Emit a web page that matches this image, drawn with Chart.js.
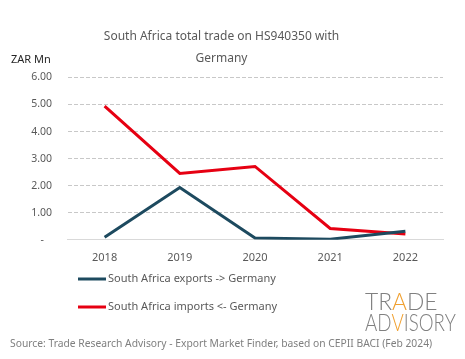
<!DOCTYPE html>
<html>
<head>
<meta charset="utf-8">
<script src="https://cdn.jsdelivr.net/npm/chart.js@4"></script>
<style>
  html, body { margin: 0; padding: 0; background: #fff; }
  #wrap { width: 465px; height: 359px; position: relative; }
</style>
</head>
<body>
<div id="wrap"><canvas id="trade-chart"></canvas></div>
<script>
    // Datos (ZAR millones)
    var years = ['2018', '2019', '2020', '2021', '2022'];
    var exportsToGermany = [0.09, 1.93, 0.07, 0.02, 0.32];
    var importsFromGermany = [4.94, 2.45, 2.71, 0.42, 0.21];
    var yTicks = [0, 1, 2, 3, 4, 5, 6];

    var FONT = '"Noto Sans", "Open Sans", sans-serif';
    var GREY = '#595959';

    // Leyenda vertical, unidad, fuente y logo dibujados a mano
    var extras = {
        id: 'extras',
        afterDraw: function(chart) {
            var ctx = chart.ctx;
            ctx.save();

            // Unidad del eje
            ctx.fillStyle = '#262626';
            ctx.font = '11px ' + FONT;
            ctx.textAlign = 'left';
            ctx.textBaseline = 'middle';
            ctx.fillText('ZAR Mn', 11, 60);

            // Leyenda
            var rows = [279, 307];
            chart.data.datasets.forEach(function(ds, i) {
                ctx.strokeStyle = ds.borderColor;
                ctx.lineWidth = 3;
                ctx.beginPath();
                ctx.moveTo(78, rows[i]);
                ctx.lineTo(106, rows[i]);
                ctx.stroke();
                ctx.fillStyle = GREY;
                ctx.font = '11px ' + FONT;
                ctx.fillText(ds.label, 108, rows[i]);
            });

            // Fuente
            ctx.fillStyle = '#7f7f7f';
            ctx.font = '10.3px ' + FONT;
            ctx.fillText('Source: Trade Research Advisory - Export Market Finder, based on CEPII BACI (Feb 2024)', 10, 344);

            // Logo
            ctx.font = '300 24px Lato, ' + FONT;
            ctx.textBaseline = 'alphabetic';
            var drawWord = function(word, y, orange, sx) {
                ctx.save();
                ctx.translate(365, 0);
                ctx.scale(sx, 1);
                var x = 0;
                for (var k = 0; k < word.length; k++) {
                    ctx.fillStyle = k === orange ? '#f0a030' : '#808080';
                    ctx.fillText(word[k], x, y);
                    x += ctx.measureText(word[k]).width;
                }
                ctx.restore();
            };
            drawWord('TRADE', 310, 2, 0.95);
            drawWord('ADVISORY', 331, 2, 0.78);

            ctx.restore();
        }
    };

    new Chart(document.getElementById('trade-chart'), {
        type: 'line',
        data: {
            labels: years,
            datasets: [
                {
                    label: 'South Africa exports -> Germany',
                    data: exportsToGermany,
                    borderColor: '#1d4a5f', // azul petróleo
                    backgroundColor: '#1d4a5f',
                    borderWidth: 3,
                    pointRadius: 0,
                    tension: 0,
                },
                {
                    label: 'South Africa imports <- Germany',
                    data: importsFromGermany,
                    borderColor: '#e60012', // rojo
                    backgroundColor: '#e60012',
                    borderWidth: 3,
                    pointRadius: 0,
                    tension: 0,
                },
            ],
        },
        options: {
            responsive: true,
            maintainAspectRatio: false,
            animation: false,
            layout: {
                padding: { top: 25, right: 22, bottom: 84, left: 0 },
            },
            plugins: {
                legend: { display: false },
                tooltip: { enabled: false },
                title: {
                    display: true,
                    text: ['South Africa total trade on HS940350 with', 'Germany'],
                    color: GREY,
                    font: { family: FONT, size: 12, weight: 'normal', lineHeight: 1.85 },
                    padding: { top: 0, bottom: 8 },
                },
            },
            scales: {
                x: {
                    offset: true,
                    grid: { display: false, drawTicks: false },
                    border: { display: true, color: '#d9d9d9', width: 1 },
                    ticks: {
                        color: GREY,
                        padding: 11,
                        font: { family: FONT, size: 11 },
                    },
                },
                y: {
                    min: yTicks[0],
                    max: yTicks[yTicks.length - 1],
                    afterFit: function(scale) {
                        scale.width = 67;
                    },
                    afterBuildTicks: function(scale) {
                        scale.ticks = yTicks.map(function(v) { return { value: v }; });
                    },
                    grid: {
                        drawTicks: false,
                        color: function(c) { return c.tick.value === 0 ? 'rgba(0,0,0,0)' : '#c8c8c8'; },
                    },
                    border: { display: true, color: 'rgba(0,0,0,0)', dash: [4, 2] },
                    ticks: {
                        color: GREY,
                        padding: 15,
                        font: { family: FONT, size: 10.5 },
                        callback: function(v) {
                            return v === 0 ? '-   ' : v.toFixed(2);
                        },
                    },
                },
            },
        },
        plugins: [extras],
    });
</script>
</body>
</html>
